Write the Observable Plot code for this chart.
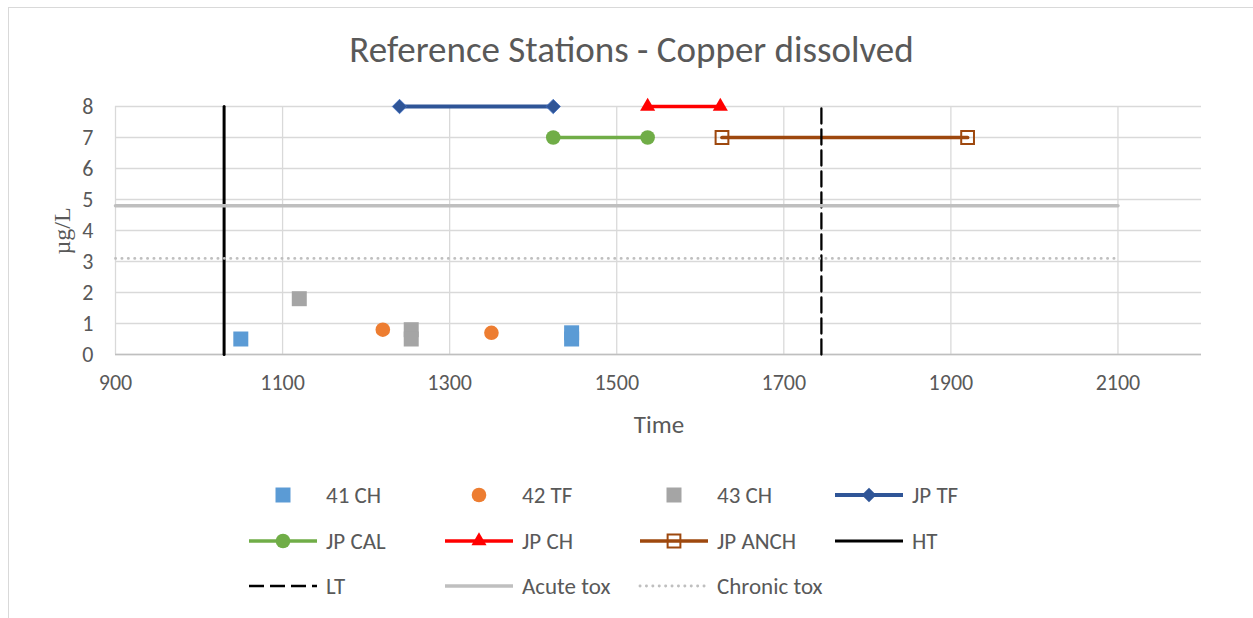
<!DOCTYPE html>
<html><head><meta charset="utf-8">
<script src="https://cdn.jsdelivr.net/npm/d3@7"></script>
<script src="https://cdn.jsdelivr.net/npm/@observablehq/plot@0.6"></script>
<style>
html,body{margin:0;padding:0;background:#fff;}
#wrap{position:relative;width:1253px;height:618px;overflow:hidden;background:#fff;font-family:Carlito,Calibri,Lato,sans-serif;color:#595959;}
#frame{position:absolute;left:8px;top:7px;width:1300px;height:700px;border:1.3px solid #d9d9d9;box-sizing:border-box;}
#title{position:absolute;left:0;width:1263px;top:28px;height:44px;line-height:44px;text-align:center;font-size:37px;}
#xlab{position:absolute;left:116px;width:1086px;top:410px;height:30px;line-height:30px;text-align:center;font-size:25px;}
#ylab{position:absolute;left:62px;top:231px;transform:translate(-50%,-50%) rotate(-90deg);font-family:"Liberation Serif","DejaVu Serif",serif;font-size:24px;white-space:nowrap;}
#chart{position:absolute;left:0;top:0;}
#legend{position:absolute;left:0;top:0;}
</style></head>
<body><div id="wrap">
<div id="frame"></div>
<div id="title">Reference Stations - Copper dissolved</div>
<div id="chart"></div>
<div id="xlab">Time</div>
<div id="ylab">µg/L</div>
<svg id="legend" width="1253" height="618"></svg>
</div>
<script>
// ---- data ----
const xTicks = [900, 1100, 1300, 1500, 1700, 1900, 2100];
const yTicks = [0, 1, 2, 3, 4, 5, 6, 7, 8];
const s41CH_x = [1050, 1446, 1446];
const s41CH_y = [0.5, 0.5, 0.7];
const s42TF_x = [1220, 1350];
const s42TF_y = [0.8, 0.7];
const s43CH_x = [1120, 1254, 1254];
const s43CH_y = [1.8, 0.8, 0.5];
const jpTF_x = [1240, 1424];
const jpTF_y = [8, 8];
const jpCAL_x = [1424, 1537];
const jpCAL_y = [7, 7];
const jpCH_x = [1537, 1624];
const jpCH_y = [8, 8];
const jpANCH_x = [1626, 1920];
const jpANCH_y = [7, 7];
const HT_x = [1030, 1030];
const HT_y = [0, 8];
const LT_x = [1745, 1745];
const LT_y = [0, 8];
const acute_x = [900, 2100];
const acute_y = [4.8, 4.8];
const chronic_x = [900, 2100];
const chronic_y = [3.1, 3.1];

const rows = (xs, ys) => xs.map((x, i) => ({x, y: ys[i]}));

const C = {
  c41: "#5b9bd5", c42: "#ed7d31", c43: "#a5a5a5",
  tf: "#2f5597", cal: "#70ad47", ch: "#ff0000", anch: "#9e480e",
  ht: "#000000", lt: "#000000", acute: "#bfbfbf", chronic: "#bfbfbf"
};
const SQ = 8.46, CIRC = 7.3, TRI = 5.6, DIA = 6.5, HSQ = 7.2;
const FONT = "Carlito, Calibri, Lato, sans-serif";

const plot = Plot.plot({
  width: 1253, height: 460,
  marginTop: 106, marginBottom: 106, marginLeft: 115, marginRight: 52,
  x: {domain: [900, 2200]},
  y: {domain: [0, 8]},
  style: {fontFamily: FONT, fontSize: "22px", color: "#595959", background: "transparent"},
  marks: [
    Plot.gridY(yTicks, {stroke: "#d9d9d9", strokeOpacity: 1, strokeWidth: 1.3}),
    Plot.gridX(xTicks.slice(1), {stroke: "#d9d9d9", strokeOpacity: 1, strokeWidth: 1.3}),
    Plot.ruleX([900], {stroke: "#d9d9d9", strokeWidth: 1.3}),
    Plot.ruleY([0], {stroke: "#bfbfbf", strokeWidth: 1.5}),
    Plot.axisX({ticks: xTicks, tickSize: 0, tickPadding: 20, fontSize: 22, fill: "#595959", label: null, tickFormat: d => String(d)}),
    Plot.axisY({ticks: yTicks, tickSize: 0, tickPadding: 22, fontSize: 22, fill: "#595959", label: null}),
    Plot.dot(rows(s41CH_x, s41CH_y), {x: "x", y: "y", symbol: "square", r: SQ, fill: C.c41}),
    Plot.dot(rows(s42TF_x, s42TF_y), {x: "x", y: "y", symbol: "circle", r: CIRC, fill: C.c42}),
    Plot.dot(rows(s43CH_x, s43CH_y), {x: "x", y: "y", symbol: "square", r: SQ, fill: C.c43}),
    Plot.line(rows(jpTF_x, jpTF_y), {x: "x", y: "y", stroke: C.tf, strokeWidth: 4}),
    Plot.dot(rows(jpTF_x, jpTF_y), {x: "x", y: "y", symbol: "diamond2", r: DIA, fill: C.tf, stroke: "#4472c4", strokeWidth: 0.8}),
    Plot.line(rows(jpCAL_x, jpCAL_y), {x: "x", y: "y", stroke: C.cal, strokeWidth: 3.5}),
    Plot.dot(rows(jpCAL_x, jpCAL_y), {x: "x", y: "y", symbol: "circle", r: CIRC, fill: C.cal}),
    Plot.line(rows(jpCH_x, jpCH_y), {x: "x", y: "y", stroke: C.ch, strokeWidth: 3.7}),
    Plot.dot(rows(jpCH_x, jpCH_y), {x: "x", y: "y", symbol: "triangle", r: TRI, fill: C.ch}),
    Plot.line(rows(jpANCH_x, jpANCH_y), {x: "x", y: "y", stroke: C.anch, strokeWidth: 3.7}),
    Plot.dot(rows(jpANCH_x, jpANCH_y), {x: "x", y: "y", symbol: "square", r: HSQ, fill: "none", stroke: C.anch, strokeWidth: 2}),
    Plot.line(rows(HT_x, HT_y), {x: "x", y: "y", stroke: C.ht, strokeWidth: 3}),
    Plot.line(rows(LT_x, LT_y), {x: "x", y: "y", stroke: C.lt, strokeWidth: 2.3, strokeDasharray: "15,6"}),
    Plot.line(rows(acute_x, acute_y), {x: "x", y: "y", stroke: C.acute, strokeWidth: 3.5}),
    Plot.line(rows(chronic_x, chronic_y), {x: "x", y: "y", stroke: C.chronic, strokeWidth: 2.9, strokeDasharray: "0.1,6.3", strokeLinecap: "round"})
  ]
});
document.getElementById("chart").appendChild(plot);

// ---- legend ----
const legendItems = [
  {label: "41 CH", marker: "square", r: SQ, fill: C.c41},
  {label: "42 TF", marker: "circle", r: CIRC, fill: C.c42},
  {label: "43 CH", marker: "square", r: SQ, fill: C.c43},
  {label: "JP TF", line: C.tf, lw: 4, marker: "diamond2", r: DIA, fill: C.tf},
  {label: "JP CAL", line: C.cal, lw: 3.5, marker: "circle", r: CIRC, fill: C.cal},
  {label: "JP CH", line: C.ch, lw: 3.7, marker: "triangle", r: TRI, fill: C.ch},
  {label: "JP ANCH", line: C.anch, lw: 3.7, marker: "square", r: HSQ, fill: "none", stroke: C.anch},
  {label: "HT", line: C.ht, lw: 3},
  {label: "LT", line: C.lt, lw: 2.3, dash: "15,6"},
  {label: "Acute tox", line: C.acute, lw: 3.5},
  {label: "Chronic tox", line: C.chronic, lw: 2.9, dash: "0.1,6.3", cap: "round"}
];
const colX = [283, 479, 674, 869];
const rowY = [495, 541, 586];
const symMap = {square: d3.symbolSquare, circle: d3.symbolCircle, triangle: d3.symbolTriangle, diamond2: d3.symbolDiamond2};
const lg = d3.select("#legend");
legendItems.forEach((it, i) => {
  const cx = colX[i % 4], cy = rowY[Math.floor(i / 4)];
  const g = lg.append("g");
  if (it.line) {
    g.append("line").attr("x1", cx - 34).attr("x2", cx + 34).attr("y1", cy).attr("y2", cy)
      .attr("stroke", it.line).attr("stroke-width", it.lw)
      .attr("stroke-dasharray", it.dash || null)
      .attr("stroke-linecap", it.cap || null);
  }
  if (it.marker) {
    g.append("path").attr("transform", `translate(${cx},${cy})`)
      .attr("d", d3.symbol(symMap[it.marker], Math.PI * it.r * it.r)())
      .attr("fill", it.fill).attr("stroke", it.stroke || "none").attr("stroke-width", it.stroke ? 2 : 0);
  }
  g.append("text").attr("x", cx + 43).attr("y", cy).attr("dy", "0.35em")
    .attr("font-size", 23).attr("fill", "#595959")
    .attr("font-family", FONT).text(it.label);
});
</script>
</body></html>
